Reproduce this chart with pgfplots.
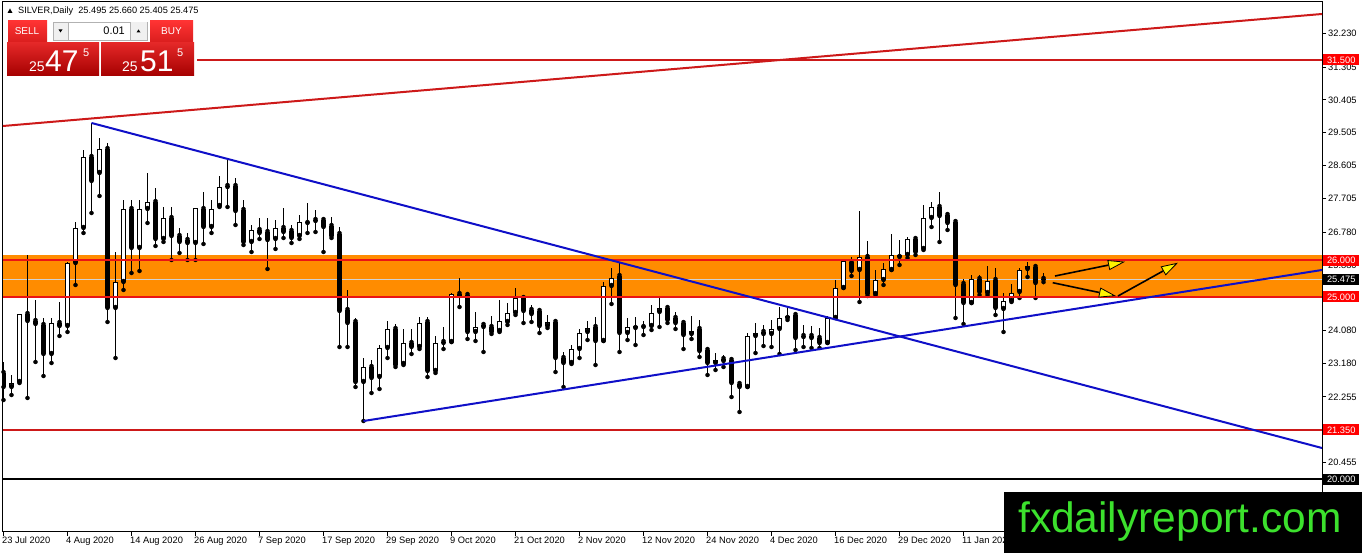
\documentclass[border=0pt]{standalone}
\usepackage{fontspec}
\setmainfont{Liberation Sans}
\usepackage{pgfplots}
\usepackage{pgfplotstable}
\pgfplotsset{compat=1.18}
\usetikzlibrary{arrows.meta}
\definecolor{mtred}{RGB}{235,20,20}
\definecolor{mtdred}{RGB}{205,25,25}
\definecolor{mtblue}{RGB}{15,15,200}
\definecolor{mtorange}{RGB}{255,140,0}
\definecolor{logogreen}{RGB}{60,225,45}
\definecolor{btnred}{RGB}{218,30,30}
\newcommand{\fs}[1]{\fontsize{#1}{#1}\selectfont}
\pgfplotstableread{
x O H L C
0 22.913 23.215 22.172 22.529
1 22.529 22.858 22.309 22.638
2 22.666 24.531 22.638 24.531
3 24.531 26.150 22.227 24.339
4 24.339 24.915 23.215 24.257
5 24.230 24.422 22.830 23.434
6 23.434 24.422 23.187 24.284
7 24.284 24.861 23.928 24.202
8 24.202 25.958 24.038 25.931
9 25.931 27.055 25.327 26.891
10 26.891 29.031 26.754 28.839
11 28.839 29.772 27.302 28.180
12 28.400 29.360 27.769 29.058
13 29.058 29.223 24.312 24.696
14 24.696 26.232 23.324 25.409
15 25.409 27.659 25.190 27.412
16 27.412 27.659 25.656 26.342
17 26.342 27.659 25.711 27.412
18 27.412 28.400 27.028 27.604
19 27.604 27.988 26.397 26.589
20 26.589 27.467 26.507 27.165
21 27.165 27.467 26.013 26.671
22 26.671 26.891 26.205 26.507
23 26.562 26.754 26.013 26.479
24 26.479 27.440 26.013 27.440
25 27.412 27.878 26.452 26.918
26 26.918 27.659 26.754 27.412
27 27.494 28.317 27.467 28.016
28 28.043 28.811 27.467 28.016
29 28.043 28.263 26.973 27.357
30 27.385 27.659 26.424 26.507
31 26.507 26.973 26.232 26.836
32 26.836 27.165 26.589 26.754
33 26.781 27.165 25.766 26.562
34 26.589 27.110 26.315 26.891
35 26.891 27.440 26.616 26.781
36 26.809 26.973 26.479 26.616
37 26.671 27.247 26.589 27.055
38 27.028 27.577 26.754 27.055
39 27.110 27.385 26.781 27.083
40 27.110 27.165 26.232 26.918
41 26.946 27.193 26.616 26.671
42 26.726 26.918 23.626 24.614
43 24.641 25.190 23.626 24.284
44 24.312 24.422 22.529 22.666
45 22.666 23.324 21.596 23.077
46 23.077 23.269 22.364 22.776
47 22.803 23.681 22.474 23.599
48 23.599 24.339 23.324 24.120
49 24.120 24.257 23.077 23.132
50 23.160 24.120 23.132 23.736
51 23.736 24.120 23.434 23.626
52 23.626 24.449 23.571 24.284
53 24.312 24.449 22.803 22.968
54 22.968 23.928 22.913 23.736
55 23.763 24.175 23.571 23.736
56 23.763 25.108 23.763 25.080
57 25.080 25.519 24.723 25.025
58 25.053 25.108 23.846 24.038
59 24.038 24.586 23.791 24.175
60 24.230 24.257 23.489 24.175
61 24.175 24.477 23.983 24.038
62 24.065 24.915 24.038 24.339
63 24.312 24.833 24.230 24.559
64 24.559 25.245 24.504 24.970
65 24.970 24.998 24.284 24.614
66 24.641 24.778 24.312 24.531
67 24.614 24.641 24.010 24.202
68 24.202 24.504 24.147 24.312
69 24.312 24.367 22.940 23.324
70 23.324 23.489 22.529 23.187
71 23.187 23.681 23.160 23.571
72 23.571 24.120 23.324 24.010
73 24.038 24.339 23.818 24.147
74 24.175 24.449 23.132 23.791
75 23.791 25.409 23.791 25.300
76 25.300 25.793 24.806 25.519
77 25.574 25.931 23.489 24.010
78 24.010 24.422 23.818 24.175
79 24.147 24.449 23.681 24.202
80 24.175 24.339 23.955 24.202
81 24.202 24.778 24.092 24.559
82 24.586 24.970 24.175 24.696
83 24.696 24.778 24.284 24.367
84 24.422 24.586 24.120 24.284
85 24.284 24.367 23.571 23.955
86 23.983 24.477 23.846 24.065
87 24.120 24.367 23.352 23.516
88 23.544 23.599 22.858 23.187
89 23.187 23.461 22.995 23.269
90 23.297 23.407 23.077 23.242
91 23.269 23.324 22.254 22.638
92 22.611 22.666 21.843 22.529
93 22.529 24.010 22.529 23.928
94 23.928 24.284 23.461 24.010
95 24.038 24.230 23.653 23.983
96 23.983 24.367 23.626 24.120
97 24.120 24.723 23.434 24.422
98 24.422 24.751 24.367 24.477
99 24.504 24.559 23.544 23.873
100 23.928 24.230 23.626 23.900
101 23.928 24.202 23.599 23.873
102 23.873 24.147 23.599 23.736
103 23.736 24.477 23.736 24.422
104 24.422 25.464 24.422 25.245
105 25.245 26.040 25.245 25.985
106 25.958 26.095 25.574 25.711
107 25.739 27.357 24.861 26.095
108 26.095 26.534 25.025 25.080
109 25.080 25.739 25.053 25.464
110 25.464 25.931 25.327 25.766
111 25.739 26.726 25.739 26.150
112 26.095 26.562 25.876 26.150
113 26.150 26.644 26.068 26.589
114 26.589 26.644 26.150 26.232
115 26.315 27.522 26.287 27.165
116 27.165 27.604 26.918 27.467
117 27.467 27.878 26.507 27.220
118 27.247 27.302 26.836 27.028
119 27.055 27.110 24.422 25.327
120 25.354 25.492 24.257 24.833
121 24.833 25.601 24.833 25.492
122 25.492 25.601 25.053 25.135
123 25.108 25.848 25.053 25.437
124 25.464 25.793 24.504 24.696
125 24.669 25.108 24.038 24.888
126 24.888 25.354 24.861 25.108
127 25.135 25.793 24.970 25.739
128 25.766 25.958 25.547 25.848
129 25.821 25.876 24.970 25.382
130 25.495 25.660 25.405 25.475
}\candles
\begin{document}
\begin{tikzpicture}[x=1pt,y=1pt]
\useasboundingbox (0pt,0pt) rectangle (1362pt,553pt);
\fill[white] (0pt,0pt) rectangle (1362pt,553pt);
\begin{axis}[
  at={(3pt,21pt)}, anchor=south west, scale only axis,
  width=1319pt, height=530pt,
  xmin=-0.0625, xmax=164.8125, ymin=18.551, ymax=33.091,
  clip mode=individual,
  axis line style={black, line width=1pt},
  xtick pos=left, ytick pos=right, yticklabel pos=right,
  tick align=outside, major tick length=4pt,
  tick style={black, line width=1pt},
  xtick={0,8,...,120},
  xticklabels={23 Jul 2020,4 Aug 2020,14 Aug 2020,26 Aug 2020,7 Sep 2020,17 Sep 2020,29 Sep 2020,9 Oct 2020,21 Oct 2020,2 Nov 2020,12 Nov 2020,24 Nov 2020,4 Dec 2020,16 Dec 2020,29 Dec 2020,11 Jan 2021},
  ytick={32.230,31.305,30.405,29.505,28.605,27.705,26.780,25.880,24.980,24.080,23.180,22.255,21.355,20.455},
  yticklabels={32.230,31.305,30.405,29.505,28.605,27.705,26.780,25.880,24.980,24.080,23.180,22.255,21.355,20.455},
  tick label style={font=\fs{9.3}, inner sep=0pt},
  xticklabel style={anchor=north west, xshift=-1.5pt, yshift=-1pt},
  yticklabel style={anchor=west, xshift=2pt},
]
\addplot[fill=mtorange, draw=none] coordinates {(-0.0625,24.99) (164.8125,24.99) (164.8125,26.15) (-0.0625,26.15)} -- cycle;
\addplot[gray!35, line width=1pt] coordinates {(-0.0625,25.475) (164.8125,25.475)};
% wicks
\addplot[only marks, mark=none, error bars/.cd, y dir=plus, y explicit, error mark=none,
  error bar style={draw=black, line width=1pt}]
  table[x=x, y=L, y error plus expr={\thisrow{H}-\thisrow{L}}] {\candles};
% bodies
\addplot[only marks, mark=none, error bars/.cd, y dir=plus, y explicit, error mark=none,
  error bar style={draw=black, line width=5pt}]
  table[x=x, y expr={min(\thisrow{O},\thisrow{C})}, y error plus expr={max(abs(\thisrow{C}-\thisrow{O}),0.03)}] {\candles};
\addplot[only marks, mark=none, error bars/.cd, y dir=plus, y explicit, error mark=none,
  error bar style={draw=white, line width=3pt}]
  table[x=x, y expr={\thisrow{O}+0.0275}, y error plus expr={max(\thisrow{C}-\thisrow{O}-0.055,0)}] {\candles};
% horizontal levels
\addplot[mtdred, line width=2pt] coordinates {(-0.0625,31.5) (164.8125,31.5)};
\addplot[mtred, line width=2pt] coordinates {(-0.0625,26) (164.8125,26)};
\addplot[mtred, line width=2pt] coordinates {(-0.0625,25) (164.8125,25)};
\addplot[mtdred, line width=2pt] coordinates {(-0.0625,21.35) (164.8125,21.35)};
\addplot[black, line width=2pt] coordinates {(-0.0625,20) (164.8125,20)};
% trend lines
\addplot[mtblue, line width=2pt] coordinates {(11,29.772) (164.8125,20.855)};
\addplot[mtblue, line width=2pt] coordinates {(45,21.596) (164.8125,25.739)};
\addplot[mtdred, line width=2pt] coordinates {(-0.0625,29.689) (164.8125,32.762)};
% arrows
\addplot[black, line width=1.6pt, -{Triangle[length=17pt,width=10pt,fill=yellow,line width=0.8pt]}] coordinates {(131.44,25.574) (140.19,25.966)};
\addplot[black, line width=1.6pt, -{Triangle[length=17pt,width=10pt,fill=yellow,line width=0.8pt]}] coordinates {(131.15,25.390) (139.06,25.025)};
\addplot[black, line width=1.6pt, -{Triangle[length=17pt,width=10pt,fill=yellow,line width=0.8pt]}] coordinates {(139.31,25.025) (146.81,25.938)};
\coordinate (L315) at (axis cs:164.8125,31.5);
\coordinate (L26) at (axis cs:164.8125,26);
\coordinate (L25475) at (axis cs:164.8125,25.475);
\coordinate (L25) at (axis cs:164.8125,25);
\coordinate (L2135) at (axis cs:164.8125,21.35);
\coordinate (L20) at (axis cs:164.8125,20);
\end{axis}
% price labels
\tikzset{plab/.style={anchor=west, text=white, font=\fs{9.3}, minimum width=36pt, minimum height=11pt, inner sep=0pt}}
\node[plab, fill=red] at ([xshift=1pt]L315) {31.500};
\node[plab, fill=red] at ([xshift=1pt]L26) {26.000};
\node[plab, fill=black] at ([xshift=1pt]L25475) {25.475};
\node[plab, fill=red] at ([xshift=1pt]L25) {25.000};
\node[plab, fill=red] at ([xshift=1pt]L2135) {21.350};
\node[plab, fill=black] at ([xshift=1pt]L20) {20.000};
% header
\fill[black] (7.5,540) -- (12.5,540) -- (10,544.5) -- cycle;
\node[anchor=base west, inner sep=0pt, font=\fs{9.2}] at (18,539) {SILVER,Daily\ \ 25.495 25.660 25.405 25.475};
% trade panel
\fill[white] (3,476) rectangle (197,534);
\shade[top color=red!80!white, bottom color=btnred] (8,511) rectangle (47,532);
\node[text=white, font=\fs{10}, inner sep=0pt] at (27,522) {SELL};
\fill[gray!12] (53,513) rectangle (68,531);
\draw[gray!60, line width=0.6pt] (53,513) rectangle (147,531);
\fill[black] (58.5,523.5) -- (62.5,523.5) -- (60.5,520.5) -- cycle;
\draw[gray!60, line width=0.6pt] (68,513) -- (68,531);
\node[anchor=east, font=\fs{11}, inner sep=0pt] at (125,522) {0.01};
\fill[gray!12] (130,513) rectangle (147,531);
\draw[gray!60, line width=0.6pt] (130,513) -- (130,531);
\fill[black] (136.5,520.5) -- (140.5,520.5) -- (138.5,523.5) -- cycle;
\shade[top color=red!80!white, bottom color=btnred] (150,511) rectangle (193,532);
\node[text=white, font=\fs{10}, inner sep=0pt] at (171.5,522) {BUY};
\shade[top color={rgb,255:red,228;green,40;blue,40}, bottom color={rgb,255:red,165;green,0;blue,0}] (7,477) rectangle (99,510);
\shade[top color={rgb,255:red,228;green,40;blue,40}, bottom color={rgb,255:red,165;green,0;blue,0}] (101,477) rectangle (194,510);
\node[anchor=base west, inner sep=0pt, text=white, font=\fs{14}] at (29,481) {25};
\node[anchor=base west, inner sep=0pt, text=white, font=\fs{30}] at (45,481) {47};
\node[anchor=base west, inner sep=0pt, text=white, font=\fs{11}] at (83,496) {5};
\node[anchor=base west, inner sep=0pt, text=white, font=\fs{14}] at (122,481) {25};
\node[anchor=base west, inner sep=0pt, text=white, font=\fs{30}] at (140,481) {51};
\node[anchor=base west, inner sep=0pt, text=white, font=\fs{11}] at (177,496) {5};
% logo
\fill[black] (1004,0) rectangle (1362,61);
\node[anchor=base west, inner sep=0pt, text=logogreen, font=\fs{42.5}] at (1018,20) {fxdailyreport.com};
\end{tikzpicture}
\end{document}
